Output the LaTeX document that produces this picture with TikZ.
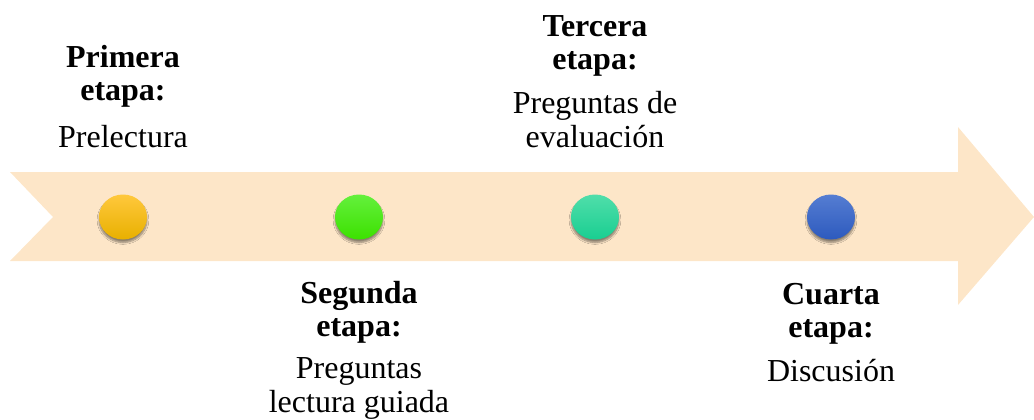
\documentclass[tikz,border=0pt]{standalone}
\usepackage{fontspec}
\setmainfont{Liberation Serif}
\usetikzlibrary{shapes.geometric,shadows.blur}

\definecolor{banda}{RGB}{253,230,200}
\definecolor{amarilloA}{RGB}{255,200,60}
\definecolor{amarilloB}{RGB}{232,176,0}
\definecolor{verdeA}{RGB}{100,240,60}
\definecolor{verdeB}{RGB}{60,225,0}
\definecolor{turquesaA}{RGB}{80,222,170}
\definecolor{turquesaB}{RGB}{25,206,145}
\definecolor{azulA}{RGB}{85,125,210}
\definecolor{azulB}{RGB}{45,90,190}

\tikzset{
    punto/.style={ellipse, minimum width=48pt, minimum height=45pt, inner sep=0pt,
        shading=axis, shading angle=0,
        blur shadow={shadow xshift=0pt, shadow yshift=-3pt, shadow blur steps=6, shadow opacity=45}},
    titulo/.style={font=\fontsize{32}{33}\selectfont\bfseries, align=center, anchor=base, inner sep=0pt},
    texto/.style={font=\fontsize{32}{34}\selectfont, align=center, anchor=base, inner sep=0pt}
}

\begin{document}
\begin{tikzpicture}[x=1pt, y=-1pt]
\useasboundingbox (0,0) rectangle (1034,420);

% flecha
\fill[banda] (10,172) -- (958,172) -- (958,127) -- (1034,217) -- (958,305)
    -- (958,261) -- (10,261) -- (53,217) -- cycle;

% puntos
\node[punto, top color=amarilloA, bottom color=amarilloB] (punto1) at (123,217) {};
\node[punto, top color=verdeA, bottom color=verdeB] (punto2) at (359,217) {};
\node[punto, top color=turquesaA, bottom color=turquesaB] (punto3) at (595,217) {};
\node[punto, top color=azulA, bottom color=azulB] (punto4) at (831,217) {};

% etapas
\node[titulo] (primera) at (123,100) {Primera\\etapa:};
\node[texto] (prelectura) at (123,147) {Prelectura};

\node[titulo] (segunda) at (359,336) {Segunda\\etapa:};
\node[texto] (guiada) at (359,412) {Preguntas\\lectura guiada};

\node[titulo] (tercera) at (595,70) {Tercera\\etapa:};
\node[texto] (evaluacion) at (595,147) {Preguntas de\\evaluación};

\node[titulo] (cuarta) at (831,337) {Cuarta\\etapa:};
\node[texto] (discusion) at (831,381) {Discusión};
\end{tikzpicture}
\end{document}
